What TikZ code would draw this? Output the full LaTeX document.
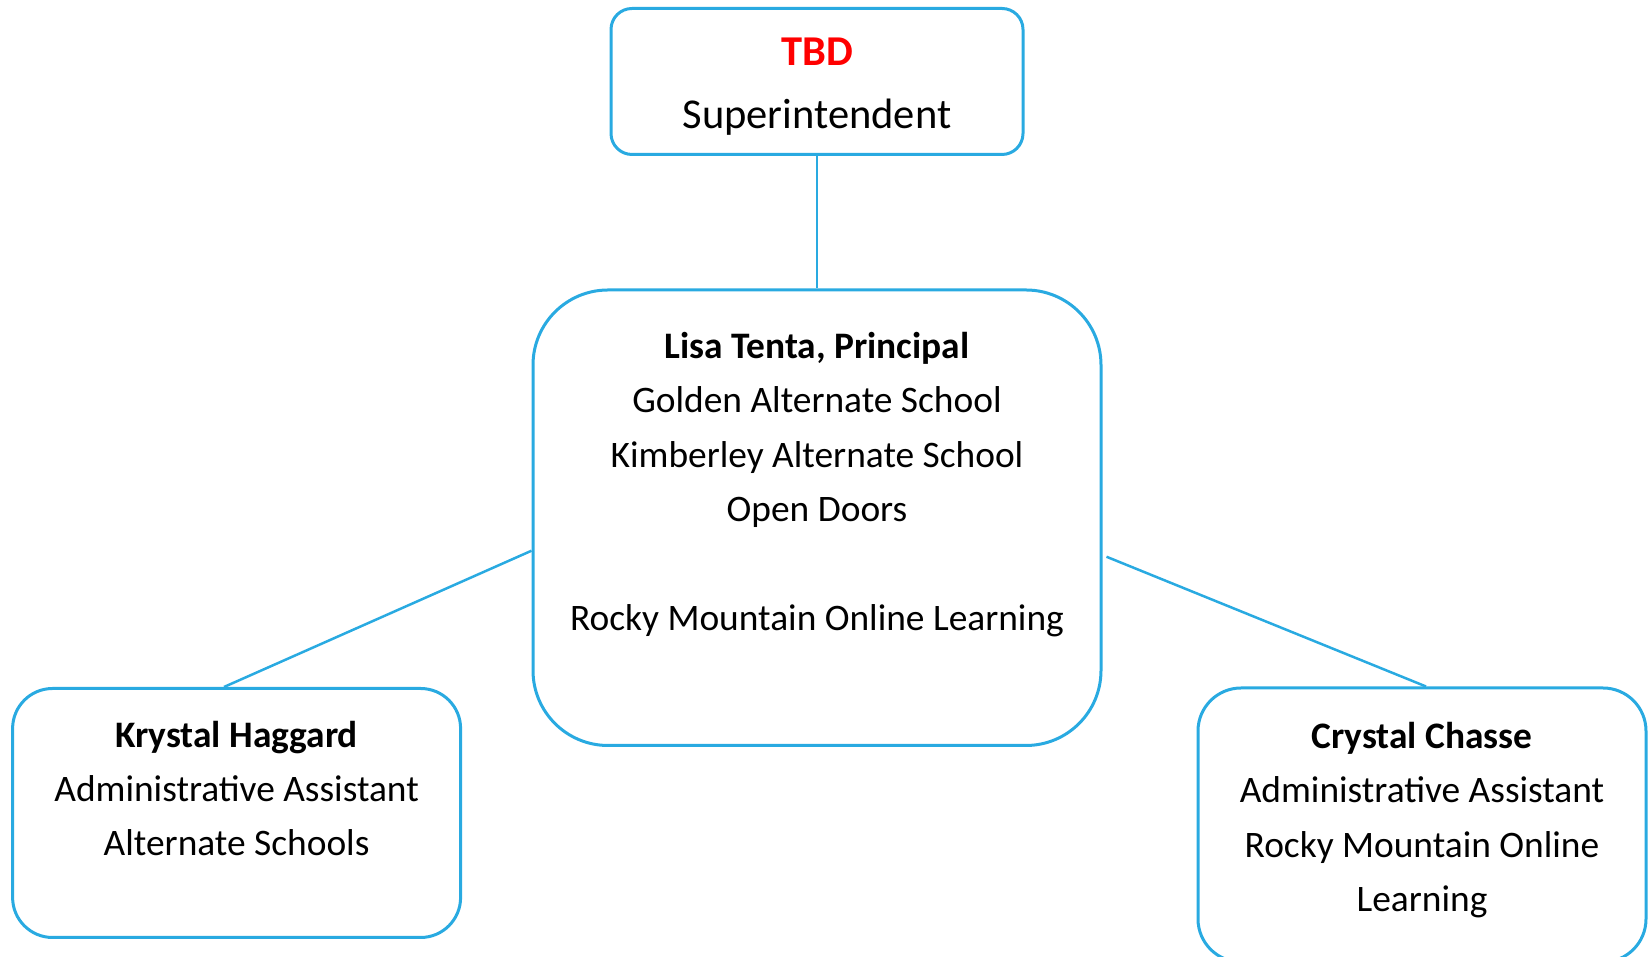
\documentclass[tikz,border=0pt]{standalone}
\usepackage{fontspec}
\setmainfont{Carlito}
\usepackage{tikz}
\definecolor{orgblue}{RGB}{41,170,225}
\definecolor{tbdred}{RGB}{255,0,0}

\begin{document}
\begin{tikzpicture}[x=1pt, y=1pt,
    orgbox/.style={draw=orgblue, line width=3pt, inner sep=0pt},
    orgtext/.style={anchor=north, align=center, inner sep=0pt, font=\fontsize{37.4}{54.3}\selectfont},
    orgline/.style={draw=orgblue, line width=2.5pt}]
    \useasboundingbox (0,0) rectangle (1649,957);

    \node [orgbox, rounded corners=21pt, minimum width=412pt, minimum height=146pt] (sup_box) at (817, 875.5) {};
    \node [orgbox, rounded corners=75pt, minimum width=568pt, minimum height=455.5pt] (principal_box) at (817, 439.25) {};
    \node [orgbox, rounded corners=40pt, minimum width=448pt, minimum height=249pt] (krystal_box) at (236.6, 144) {};
    \node [orgbox, rounded corners=43pt, minimum width=448pt, minimum height=274pt] (crystal_box) at (1422, 132) {};

    \node [orgtext, font=\fontsize{42.5}{63}\selectfont] (sup_text) at ([shift={(0, -28.6)}]sup_box.north)
        {\rule{0pt}{30pt}{\bfseries\color{tbdred}TBD}\\Superintendent};
    \node [orgtext] (principal_text) at ([shift={(0, -40)}]principal_box.north)
        {\rule{0pt}{30pt}{\bfseries Lisa Tenta, Principal}\\Golden Alternate School\\Kimberley Alternate School\\Open Doors\\[54.3pt]Rocky Mountain Online Learning};
    \node [orgtext] (krystal_text) at ([shift={(0, -30)}]krystal_box.north)
        {\rule{0pt}{30pt}{\bfseries Krystal Haggard}\\Administrative Assistant\\Alternate Schools};
    \node [orgtext] (crystal_text) at ([shift={(0, -32)}]crystal_box.north)
        {\rule{0pt}{30pt}{\bfseries Crystal Chasse}\\Administrative Assistant\\Rocky Mountain Online\\Learning};

    \draw [orgblue, line width=1.5pt] (sup_box.south) -- (principal_box.north);
    \draw [orgline] ([shift={(0, -33)}]principal_box.west) -- ([shift={(-12.6, 0)}]krystal_box.north);
    \draw [orgline] ([shift={(4, -39)}]principal_box.east) -- ([shift={(4, 0)}]crystal_box.north);

\end{tikzpicture}
\end{document}
